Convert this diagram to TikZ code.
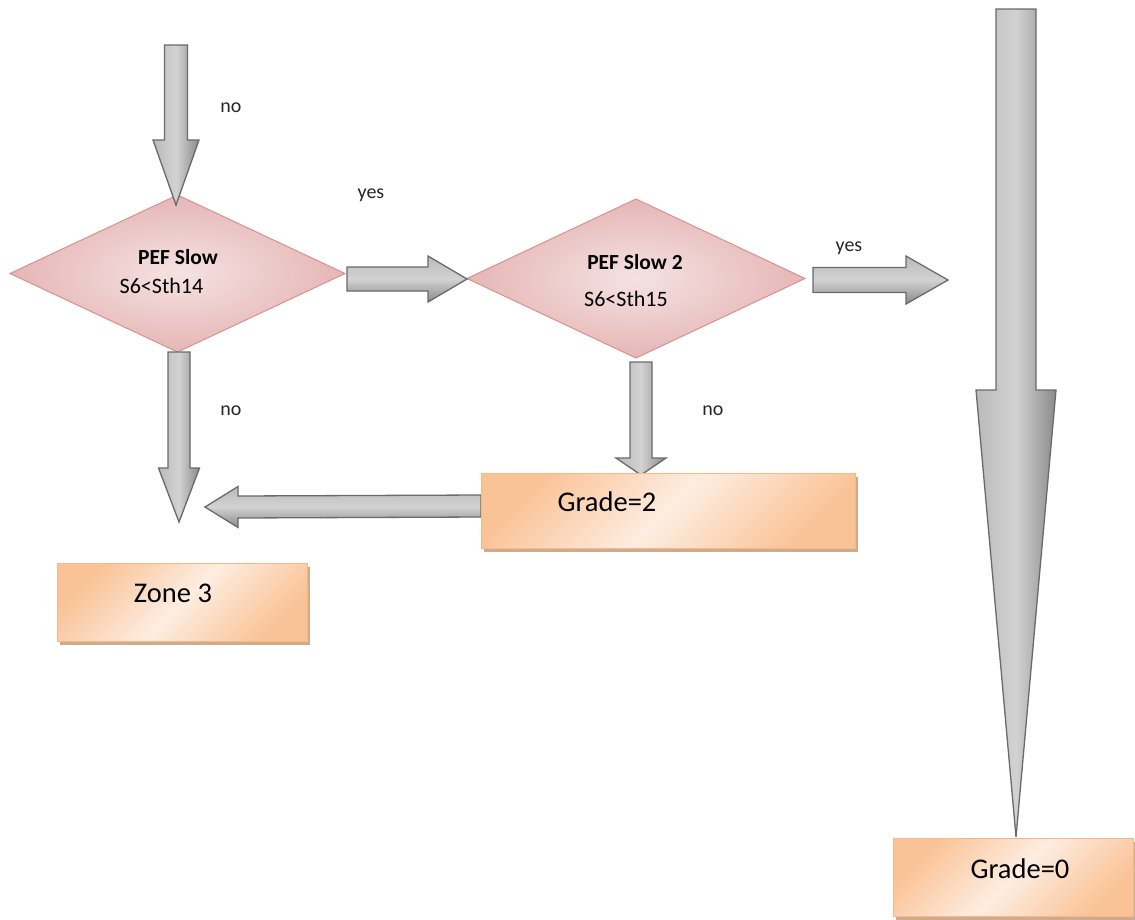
\documentclass[tikz,border=0pt]{standalone}
\usepackage{fontspec}
\setmainfont{Carlito}
\usetikzlibrary{shapes.geometric,calc,shadows}

\definecolor{diamondedge}{HTML}{E6B6B6}
\definecolor{diamondlight}{HTML}{F5E2E2}
\definecolor{diamondborder}{HTML}{D8918E}
\definecolor{boxdark}{HTML}{FAC397}
\definecolor{boxlight}{HTML}{FDEDE1}
\definecolor{boxborder}{HTML}{F6BA88}
\definecolor{boxshadow}{HTML}{CFAA8C}
\definecolor{arrowline}{HTML}{6A6A6A}
\definecolor{arrowlight}{HTML}{D2D2D2}
\definecolor{arrowmid}{HTML}{BABABA}
\definecolor{arrowdark}{HTML}{8A8A8A}

% vertical block arrow: #1 start, #2 tip, #3 shaft half width, #4 head half width, #5 head length
\newcommand{\vblock}[5]{%
  \fill[blockshadow, shift={(3,3)}]
    ($(#1)+(-#3,0)$) -- ($(#2)+(-#3,-#5)$) -- ($(#2)+(-#4,-#5)$) -- (#2)
    -- ($(#2)+(#4,-#5)$) -- ($(#2)+(#3,-#5)$) -- ($(#1)+(#3,0)$) -- cycle;
  \path[vbody]
    ($(#1)+(-#3,0)$) -- ($(#2)+(-#3,-#5)$) -- ($(#2)+(-#4,-#5)$) -- (#2)
    -- ($(#2)+(#4,-#5)$) -- ($(#2)+(#3,-#5)$) -- ($(#1)+(#3,0)$) -- cycle;}

% horizontal block arrow: head length is signed (negative points left)
\newcommand{\hblock}[5]{%
  \fill[blockshadow, shift={(3,4)}]
    ($(#1)+(0,-#3)$) -- ($(#2)+({-(#5)},-#3)$) -- ($(#2)+({-(#5)},-#4)$) -- (#2)
    -- ($(#2)+({-(#5)},#4)$) -- ($(#2)+({-(#5)},#3)$) -- ($(#1)+(0,#3)$) -- cycle;
  \path[hbody]
    ($(#1)+(0,-#3)$) -- ($(#2)+({-(#5)},-#3)$) -- ($(#2)+({-(#5)},-#4)$) -- (#2)
    -- ($(#2)+({-(#5)},#4)$) -- ($(#2)+({-(#5)},#3)$) -- ($(#1)+(0,#3)$) -- cycle;}

\begin{document}
\begin{tikzpicture}[x=1pt,y=-1pt,
  decision/.style={diamond, draw=diamondborder, line width=1pt,
    inner sep=0pt, outer sep=0pt, inner color=diamondlight, outer color=diamondedge},
  outcome/.style={rectangle, draw=boxborder, line width=1pt, inner sep=0pt,
    top color=boxdark, bottom color=boxdark, middle color=boxlight, shading angle=45,
    drop shadow={fill=boxshadow, opacity=1, shadow xshift=3pt, shadow yshift=-4pt}},
  blockshadow/.style={fill=gray, opacity=0.35},
  vbody/.style={draw=arrowline, line width=1.3pt, line join=miter,
    left color=arrowmid, right color=arrowdark, middle color=arrowlight},
  hbody/.style={draw=arrowline, line width=1.3pt, line join=miter,
    top color=arrowmid, bottom color=arrowdark, middle color=arrowlight},
  dtitle/.style={font=\bfseries\fontsize{21.5}{24}\selectfont, inner sep=0pt},
  dcond/.style={font=\fontsize{22}{26}\selectfont, inner sep=0pt},
  btext/.style={font=\fontsize{28.5}{32}\selectfont, inner sep=0pt},
  flag/.style={font=\fontsize{20}{24}\selectfont, text=black!85, inner sep=0pt}]

\useasboundingbox (0,0) rectangle (1135,919);

% decisions
\node[decision, minimum width=335, minimum height=157] (d1) at (177.5,273.5) {};
\node[decision, minimum width=338, minimum height=159] (d2) at (636,278.5) {};

% arrow end points
\coordinate (a1s) at (176,45);   \coordinate (a1t) at (176,205);
\coordinate (a2s) at (347,279);  \coordinate (a2t) at (467,279);
\coordinate (a3s) at (813,280);  \coordinate (a3t) at (948,280);
\coordinate (a4s) at (179,352);  \coordinate (a4t) at (179,522);
\coordinate (a5s) at (641,362);  \coordinate (a5t) at (641,475);
\coordinate (a6s) at (481,506);  \coordinate (a6t) at (205,507);
\coordinate (a7s) at (1016,9);   \coordinate (a7t) at (1016,837);

% block arrows
\vblock{a1s}{a1t}{11.5}{23}{65}
\hblock{a2s}{a2t}{12}{23}{39}
\hblock{a3s}{a3t}{12.5}{24}{42}
\vblock{a4s}{a4t}{11}{20.5}{54}
\vblock{a5s}{a5t}{11}{25}{17}
\hblock{a6s}{a6t}{11}{20.5}{-33}
\vblock{a7s}{a7t}{20}{40}{447}

% outcomes
\node[outcome, minimum width=374, minimum height=75] (g2) at (668,510.5) {};
\node[outcome, minimum width=250, minimum height=78] (z3) at (182,602) {};
\node[outcome, minimum width=240, minimum height=78] (g0) at (1013,877) {};

% texts
\node[dtitle] (t1) at (178,257) {PEF Slow};
\node[dcond]  (c1) at (161.5,286) {S6<Sth14};
\node[dtitle] (t2) at (635,262) {PEF Slow 2};
\node[dcond]  (c2) at (626,299) {S6<Sth15};
\node[btext]  (tg2) at (607,502) {Grade=2};
\node[btext]  (tz3) at (173,593) {Zone 3};
\node[btext]  (tg0) at (1020,869) {Grade=0};

% branch labels
\node[flag] (n1) at (231,108) {no};
\node[flag] (y1) at (371,195) {yes};
\node[flag] (y2) at (849,248) {yes};
\node[flag] (n2) at (231,411) {no};
\node[flag] (n3) at (713,411) {no};
\end{tikzpicture}
\end{document}
